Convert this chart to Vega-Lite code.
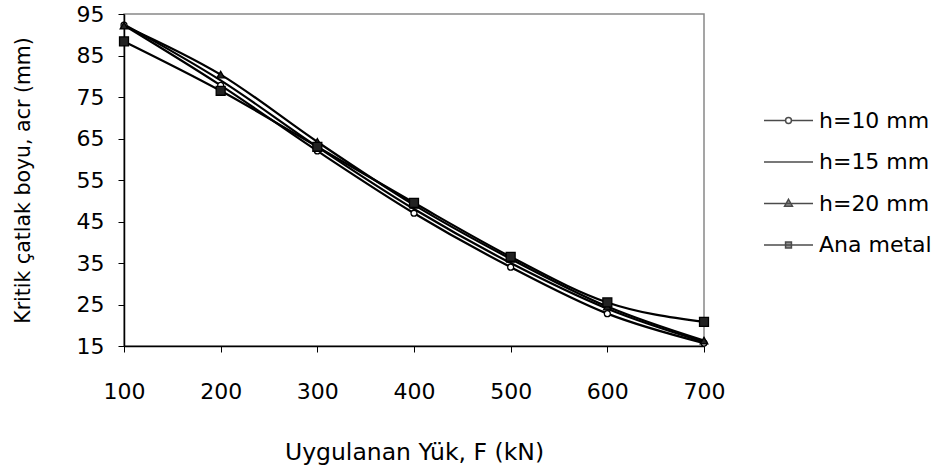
{
  "$schema": "https://vega.github.io/schema/vega-lite/v6.json",
  "width": 580,
  "height": 332,
  "autosize": {"type": "none"},
  "padding": {"left": 124, "top": 14, "right": 237, "bottom": 126},
  "background": "white",
  "config": {
    "view": {"stroke": "#888888", "strokeWidth": 1.5},
    "font": "DejaVu Sans",
    "axis": {"grid": false, "domainColor": "#000000", "domainWidth": 1.5, "tickColor": "#000000", "tickWidth": 1, "labelColor": "#000000", "titleColor": "#000000", "labelFont": "DejaVu Sans", "titleFont": "DejaVu Sans", "labelFontSize": 22, "titleFontSize": 22, "titleFontWeight": "normal", "labelFlush": false}
  },
  "data": {
    "values": [
      {"F": 100, "a": 92.3, "series": "h=10 mm"},
      {"F": 200, "a": 77.8, "series": "h=10 mm"},
      {"F": 300, "a": 62.0, "series": "h=10 mm"},
      {"F": 400, "a": 47.0, "series": "h=10 mm"},
      {"F": 500, "a": 34.0, "series": "h=10 mm"},
      {"F": 600, "a": 22.8, "series": "h=10 mm"},
      {"F": 700, "a": 15.7, "series": "h=10 mm"},
      {"F": 100, "a": 92.5, "series": "h=15 mm"},
      {"F": 200, "a": 79.0, "series": "h=15 mm"},
      {"F": 300, "a": 63.0, "series": "h=15 mm"},
      {"F": 400, "a": 48.0, "series": "h=15 mm"},
      {"F": 500, "a": 35.0, "series": "h=15 mm"},
      {"F": 600, "a": 24.0, "series": "h=15 mm"},
      {"F": 700, "a": 16.0, "series": "h=15 mm"},
      {"F": 100, "a": 92.2, "series": "h=20 mm"},
      {"F": 200, "a": 80.4, "series": "h=20 mm"},
      {"F": 300, "a": 64.2, "series": "h=20 mm"},
      {"F": 400, "a": 49.0, "series": "h=20 mm"},
      {"F": 500, "a": 36.0, "series": "h=20 mm"},
      {"F": 600, "a": 24.5, "series": "h=20 mm"},
      {"F": 700, "a": 16.3, "series": "h=20 mm"},
      {"F": 100, "a": 88.4, "series": "Ana metal"},
      {"F": 200, "a": 76.5, "series": "Ana metal"},
      {"F": 300, "a": 63.0, "series": "Ana metal"},
      {"F": 400, "a": 49.5, "series": "Ana metal"},
      {"F": 500, "a": 36.5, "series": "Ana metal"},
      {"F": 600, "a": 25.5, "series": "Ana metal"},
      {"F": 700, "a": 20.8, "series": "Ana metal"}
    ]
  },
  "encoding": {
    "x": {"field": "F", "type": "quantitative", "scale": {"domain": [100, 700], "nice": false, "zero": false},
      "axis": {"values": [100, 200, 300, 400, 500, 600, 700], "tickSize": 6, "labelPadding": 29, "title": "Uygulanan Yük, F (kN)", "titleFontSize": 23.5, "titlePadding": 38}},
    "y": {"field": "a", "type": "quantitative", "scale": {"domain": [15, 95], "nice": false, "zero": false},
      "axis": {"values": [15, 25, 35, 45, 55, 65, 75, 85, 95], "tickSize": 6, "labelPadding": 14, "title": "Kritik çatlak boyu, acr (mm)", "titleFontSize": 20.5, "titlePadding": 43}}
  },
  "layer": [
    {
      "mark": {"type": "line", "interpolate": "monotone", "color": "#000000", "strokeWidth": 2.2},
      "encoding": {"detail": {"field": "series"}}
    },
    {
      "transform": [{"filter": "datum.series !== 'h=15 mm'"}],
      "mark": {"type": "point", "filled": true, "stroke": "#000000", "strokeWidth": 1.3, "opacity": 1},
      "encoding": {
        "shape": {"field": "series", "type": "nominal", "legend": null,
          "scale": {"domain": ["h=10 mm", "h=20 mm", "Ana metal"], "range": ["circle", "triangle-up", "square"]}},
        "fill": {"field": "series", "type": "nominal", "legend": null,
          "scale": {"domain": ["h=10 mm", "h=20 mm", "Ana metal"], "range": ["#ffffff", "#222222", "#222222"]}},
        "size": {"field": "series", "type": "nominal", "legend": null,
          "scale": {"domain": ["h=10 mm", "h=20 mm", "Ana metal"], "range": [35, 80, 50]}}
      }
    },
    {
      "mark": {"type": "point", "filled": true, "size": 0, "stroke": "#000000"},
      "encoding": {
        "shape": {"field": "series", "type": "nominal", "title": null,
          "scale": {"domain": ["h=10 mm", "h=15 mm", "h=20 mm", "Ana metal"],
            "range": ["M-1,0H-0.12M0.12,0H1M-0.12,0A0.12,0.12 0 1,0 0.12,0A0.12,0.12 0 1,0 -0.12,0Z", "M-1,0H1", "M-1,0H1M0,-0.17L0.16,0.11L-0.16,0.11Z", "M-1,0H1M-0.12,-0.12H0.12V0.12H-0.12Z"]},
          "legend": {"orient": "none", "legendX": 639, "legendY": 81, "symbolSize": 2401, "labelFontSize": 22, "labelFont": "DejaVu Sans", "labelColor": "#000000", "labelOffset": 5, "rowPadding": 4.5,
            "encode": {"symbols": {"update": {"stroke": {"value": "#000000"}, "strokeWidth": {"value": 1.8}, "opacity": {"value": 1}}}}}},
        "fill": {"field": "series", "type": "nominal", "title": null,
          "scale": {"domain": ["h=10 mm", "h=15 mm", "h=20 mm", "Ana metal"], "range": ["#ffffff", "#000000", "#222222", "#222222"]}}
      }
    }
  ],
  "resolve": {"scale": {"shape": "independent", "fill": "independent", "size": "independent"}}
}
